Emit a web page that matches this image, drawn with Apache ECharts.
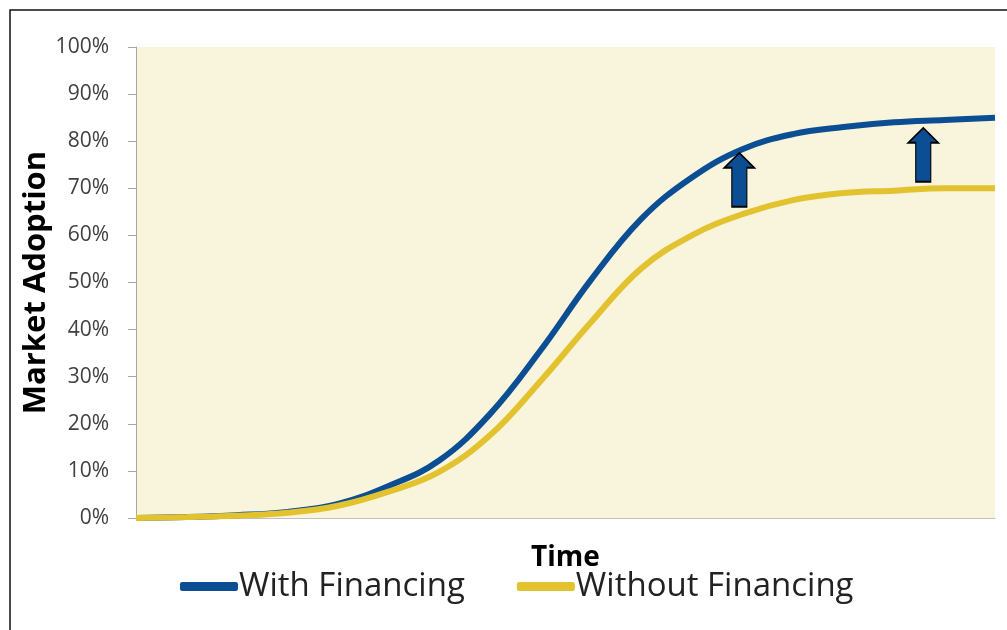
<!DOCTYPE html>
<html>
<head>
<meta charset="utf-8">
<script src="https://cdn.jsdelivr.net/npm/echarts@6/dist/echarts.min.js"></script>
<style>
  html, body { margin: 0; padding: 0; background: #fff; }
  #chart { width: 1007px; height: 630px; }
</style>
</head>
<body>
<div id="chart"></div>
<script>
// time steps (no labels on the x axis)
var timeSteps = [0, 1, 2, 3, 4, 5, 6, 7, 8, 9, 10, 11, 12, 13, 14, 15, 16, 17];
// adoption in %
var withFinancing = [0, 0.2, 0.6, 1.3, 3.0, 6.8, 12.2, 22.0, 35.5, 50.5, 63.5, 72.3, 78.3, 81.5, 83.0, 84.0, 84.5, 85.0];
var withoutFinancing = [0, 0.2, 0.5, 1.1, 2.6, 5.6, 9.8, 17.5, 29.0, 41.5, 53.0, 60.0, 64.5, 67.5, 69.0, 69.5, 70.0, 70.0];
var yTicks = [0, 10, 20, 30, 40, 50, 60, 70, 80, 90, 100];
// upward arrows between the curves (time position, centre value)
var arrowX = [11.94, 15.58];
var arrowY = [71.8, 77.1];

var arrowPath = 'path://M14,0 L28,15 L21,15 L21,54 L7,54 L7,15 L0,15 Z';

function pairs(ys) {
  return timeSteps.map(function (t, i) { return [t, ys[i]]; });
}

var myChart = echarts.init(document.getElementById('chart'));
myChart.setOption({
  animation: false,
  textStyle: { fontFamily: 'Open Sans' },
  graphic: [{
    type: 'rect',
    shape: { x: 10, y: 10, width: 1020, height: 650 },
    style: { fill: 'none', stroke: '#111', lineWidth: 1.5 },
    silent: true
  }],
  grid: {
    left: 136, top: 47, right: 12, bottom: 112,
    show: true, backgroundColor: '#F9F4DC', borderWidth: 0
  },
  legend: {
    bottom: 22,
    left: 175,
    itemGap: 52,
    itemWidth: 58,
    itemHeight: 9,
    icon: 'roundRect',
    textStyle: { fontSize: 33, color: '#222', padding: [0, 0, 0, -4] },
    data: ['With Financing', 'Without Financing']
  },
  xAxis: {
    type: 'value',
    min: 0,
    max: 17,
    name: 'Time',
    nameLocation: 'middle',
    nameGap: 26,
    nameTextStyle: { fontSize: 28, fontWeight: 'bold', color: '#000' },
    axisLine: { lineStyle: { color: '#BFBFBF', width: 1 } },
    axisTick: { show: false },
    axisLabel: { show: false },
    splitLine: { show: false }
  },
  yAxis: {
    type: 'value',
    min: 0,
    max: 100,
    interval: 10,
    name: 'Market Adoption',
    nameLocation: 'middle',
    nameGap: 84,
    nameMoveOverlap: false,
    nameTextStyle: { fontSize: 31, fontWeight: 'bold', color: '#000' },
    axisLine: { show: true, lineStyle: { color: '#A6A6A6' } },
    axisTick: { show: true, inside: false, length: 8, lineStyle: { color: '#A6A6A6' } },
    axisLabel: {
      margin: 27,
      fontSize: 21,
      color: '#404040',
      customValues: yTicks,
      formatter: '{value}%'
    },
    splitLine: { show: false }
  },
  series: [
    {
      name: 'With Financing',
      type: 'line',
      smooth: 0.4,
      showSymbol: false,
      data: pairs(withFinancing),
      itemStyle: { color: '#0C4E93' },
      lineStyle: { color: '#0C4E93', width: 6 },
      markPoint: {
        symbol: arrowPath,
        symbolSize: [30, 54],
        symbolKeepAspect: false,
        itemStyle: { color: '#0C4E93', borderColor: '#000', borderWidth: 1.5 },
        label: { show: false },
        data: arrowX.map(function (x, i) { return { coord: [x, arrowY[i]] }; })
      }
    },
    {
      name: 'Without Financing',
      type: 'line',
      smooth: 0.4,
      showSymbol: false,
      data: pairs(withoutFinancing),
      itemStyle: { color: '#E3C22F' },
      lineStyle: { color: '#E3C22F', width: 6 }
    }
  ]
});
</script>
</body>
</html>
